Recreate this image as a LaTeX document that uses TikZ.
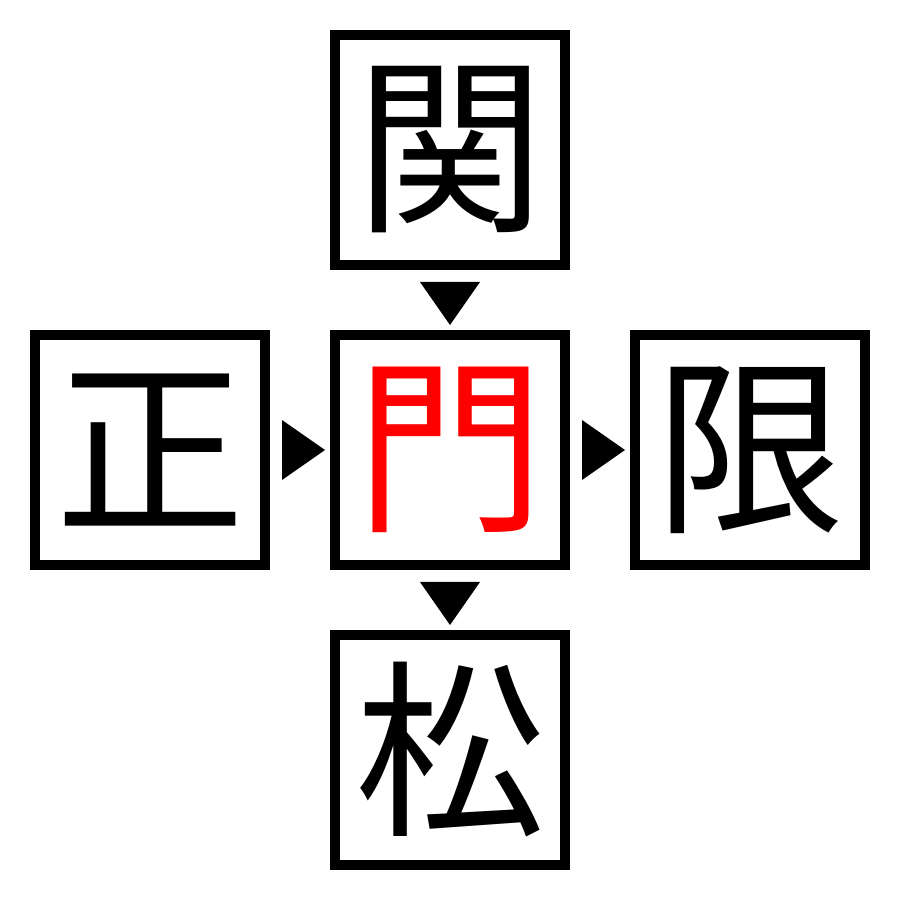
\documentclass[tikz,border=0pt]{standalone}
\usepackage{fontspec}
\usetikzlibrary{calc}
\newfontfamily\cjk{Noto Sans CJK JP}
\tikzset{
  kanjibox/.style={draw,line width=0.1cm,minimum size=2.3cm,inner sep=0pt,
    font=\cjk\fontsize{54}{54}\selectfont},
  pointer/.style={fill=black}
}
\begin{document}
\begin{tikzpicture}
\useasboundingbox (0,0) rectangle (9,9);
\node[kanjibox,text=red] (mon) at (4.5,4.5) {門};
\node[kanjibox] (seki) at (4.5,7.5) {関};
\node[kanjibox] (sei) at (1.5,4.5) {正};
\node[kanjibox] (gen) at (7.5,4.5) {限};
\node[kanjibox] (matsu) at (4.5,1.5) {松};
% pointers between boxes
\fill[pointer] ($(seki.south)+(-0.3,-0.12)$) -- ++(0.6,0) -- ($(mon.north)+(0,0.05)$) -- cycle;
\fill[pointer] ($(mon.south)+(-0.3,-0.12)$) -- ++(0.6,0) -- ($(matsu.north)+(0,0.05)$) -- cycle;
\fill[pointer] ($(sei.east)+(0.12,0.3)$) -- ++(0,-0.6) -- ($(mon.west)+(-0.05,0)$) -- cycle;
\fill[pointer] ($(mon.east)+(0.12,0.3)$) -- ++(0,-0.6) -- ($(gen.west)+(-0.05,0)$) -- cycle;
\end{tikzpicture}
\end{document}
